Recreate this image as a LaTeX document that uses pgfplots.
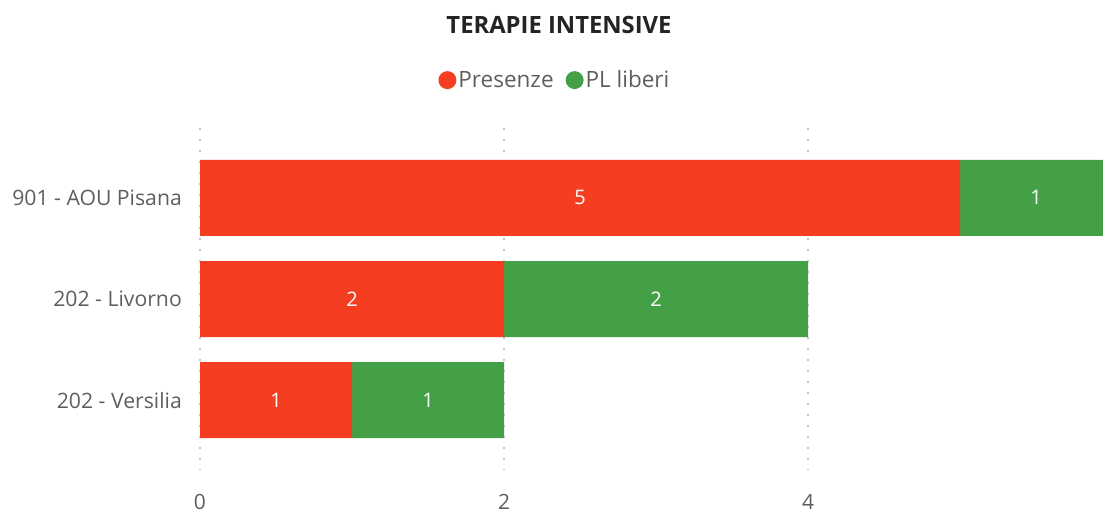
\documentclass[border=0pt]{standalone}
\usepackage{pgfplots}
\pgfplotsset{compat=1.18}
\usepackage{fontspec}
\setmainfont{Open Sans}
\definecolor{cred}{HTML}{F53D22}
\definecolor{cgreen}{HTML}{43A047}
\definecolor{ctext}{HTML}{605E5C}
\definecolor{ctitle}{HTML}{252423}
\begin{document}
\begin{tikzpicture}
\path[use as bounding box] (0bp,0bp) rectangle (1103bp,513bp);
\begin{axis}[at={(200bp,43bp)}, anchor=south west, scale only axis,
  width=903bp, height=342bp, clip=false,
  xbar stacked, bar width=76bp,
  xmin=0, xmax=5.94, ymin=-0.69, ymax=2.69, y dir=reverse,
  ytick={0,1,2}, yticklabels={901 - AOU Pisana, 202 - Livorno, 202 - Versilia},
  xtick={0,2,4},
  xmajorgrids, grid style={gray!45, line width=1.6bp, dash pattern=on 1.6bp off 9.4bp},
  axis line style={draw=none}, major tick length=0pt,
  /pgf/number format/assume math mode=true,
  xticklabel style={anchor=north, inner sep=0pt, yshift=-24bp, text=ctext, font=\fontsize{21bp}{25bp}\selectfont},
  yticklabel style={anchor=east, inner sep=0pt, xshift=-18bp, text=ctext, font=\fontsize{21.2bp}{25bp}\selectfont},
  nodes near coords,
  nodes near coords style={text=white, font=\fontsize{20bp}{24bp}\selectfont},
  legend columns=2,
  legend style={at={(0.393,1.14)}, anchor=center, draw=none, fill=none,
    font=\fontsize{22.5bp}{26bp}\selectfont, text=ctext,
    /tikz/every even column/.append style={column sep=10bp}},
]
\addplot[fill=cred, draw=none, legend image code/.code={\fill[cred] (0bp,0bp) circle (9bp);}] coordinates {(5,0) (2,1) (1,2)};
\addlegendentry{Presenze}
\addplot[fill=cgreen, draw=none, legend image code/.code={\fill[cgreen] (0bp,0bp) circle (9bp);}] coordinates {(1,0) (2,1) (1,2)};
\addlegendentry{PL liberi}
\end{axis}
\node[font=\bfseries\fontsize{23.8bp}{28bp}\selectfont, text=ctitle] at (559bp,488bp) {TERAPIE INTENSIVE};
\end{tikzpicture}
\end{document}
